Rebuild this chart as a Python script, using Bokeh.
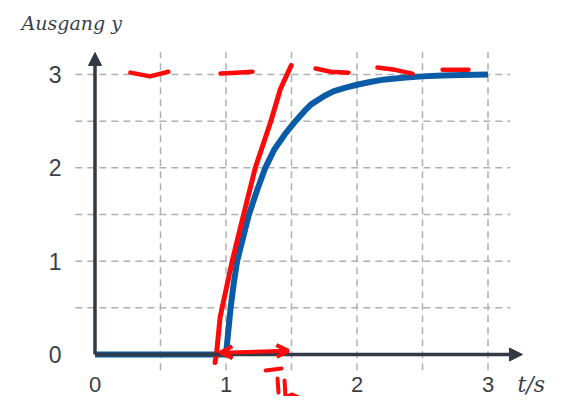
from bokeh.plotting import figure
from bokeh.models import Range1d, Arrow, NormalHead, OpenHead
from bokeh.core.properties import value
from bokeh.embed import file_html
from bokeh.resources import INLINE

# ---- data ----
t_vals = [0.0, 1.0, 1.035, 1.06, 1.085, 1.11, 1.13, 1.175, 1.24, 1.30, 1.37, 1.45, 1.53, 1.60, 1.65,
          1.75, 1.82, 1.90, 2.0, 2.1, 2.2, 2.35, 2.5, 2.65, 2.8, 3.0]
y_vals = [0.0, 0.0, 0.5, 0.77, 1.0, 1.14, 1.25, 1.5, 1.77, 2.0, 2.2, 2.36, 2.5, 2.61, 2.68,
          2.77, 2.82, 2.855, 2.89, 2.92, 2.945, 2.965, 2.98, 2.99, 2.995, 3.0]

x_ticks = [0, 1, 2, 3]
x_tick_labels = ["0", "1", "2", "3"]
y_ticks = [0, 1, 2, 3]
y_tick_labels = ["0", "1", "2", "3"]
grid_x = [0.5, 1.0, 1.5, 2.0, 2.5, 3.0]
grid_y = [0.5, 1.0, 1.5, 2.0, 2.5, 3.0]

# hand-drawn red annotations
tangent_t = [0.916, 0.928, 0.955, 1.047, 1.136, 1.225, 1.340, 1.416, 1.498]
tangent_y = [-0.086, 0.01, 0.40, 1.0, 1.508, 2.007, 2.489, 2.847, 3.097]
final_dash_t = [[0.27, 0.42, 0.56], [0.958, 1.08, 1.202], [1.683, 1.80, 1.935], [2.156, 2.29, 2.424], [2.653, 2.851]]
final_dash_y = [[3.02, 2.98, 3.03], [3.01, 3.02, 3.03], [3.064, 3.03, 3.02], [3.075, 3.05, 3.01], [3.05, 3.05]]
tb_t = [[1.302, 1.424], [1.393, 1.401], [1.447, 1.454], [1.452, 1.50, 1.553]]
tb_y = [[-0.171, -0.150], [-0.257, -0.407], [-0.279, -0.46], [-0.46, -0.428, -0.46]]
span_t = [0.958, 1.477]
span_y = [0.02, 0.04]

AXIS = "#323a45"
GRID = "#aeb0b4"
BLUE = "#0a5ca6"
RED = "#ff0a0a"
TXT = "#3a3f47"

p = figure(width=555, height=396,
           x_range=Range1d(-0.7214, 3.5153), y_range=Range1d(-0.450, 3.793),
           x_axis_type=None, y_axis_type=None,
           toolbar_location=None, output_backend="svg",
           min_border=0, outline_line_color=None,
           background_fill_color="white", border_fill_color="white")

# dashed grid
p.segment(x0=[-0.15] * len(grid_y), y0=grid_y, x1=[3.17] * len(grid_y), y1=grid_y,
          line_color=GRID, line_width=1.5, line_dash="7 5")
p.segment(x0=grid_x, y0=[-0.17] * len(grid_x), x1=grid_x, y1=[3.24] * len(grid_x),
          line_color=GRID, line_width=1.5, line_dash="7 5")

# axes with arrowheads
p.add_layout(Arrow(x_start=0, y_start=0, x_end=0, y_end=3.236,
                   line_color=AXIS, line_width=3.5,
                   end=NormalHead(size=13, fill_color=AXIS, line_color=AXIS)))
p.add_layout(Arrow(x_start=0, y_start=0, x_end=3.263, y_end=0,
                   line_color=AXIS, line_width=3.5,
                   end=NormalHead(size=13, fill_color=AXIS, line_color=AXIS)))

# step response
p.line(t_vals, y_vals, line_color=BLUE, line_width=6, line_join="round")

# red annotations
p.line(tangent_t, tangent_y, line_color=RED, line_width=5, line_cap="round", line_join="round")
p.multi_line(final_dash_t, final_dash_y, line_color=RED, line_width=4.5, line_cap="round")
p.multi_line(tb_t, tb_y, line_color=RED, line_width=4, line_cap="round")
p.add_layout(Arrow(x_start=span_t[0], y_start=span_y[0], x_end=span_t[1], y_end=span_y[1],
                   line_color=RED, line_width=4,
                   start=OpenHead(size=12, line_color=RED, line_width=4),
                   end=OpenHead(size=12, line_color=RED, line_width=4)))

# tick labels
p.text(x=[-0.256] * len(y_ticks), y=y_ticks, text=y_tick_labels,
       text_font=value("Liberation Sans"), text_font_size="23px", text_color=TXT,
       text_align="right", text_baseline="middle")
p.text(x=x_ticks, y=[-0.32] * len(x_ticks), text=x_tick_labels,
       text_font=value("Liberation Sans"), text_font_size="22px", text_color=TXT,
       text_align="center", text_baseline="middle")

# axis titles
p.text(x=[3.225], y=[-0.32], text=["t/s"],
       text_font=value("DejaVu Serif"), text_font_style="italic", text_font_size="22px",
       text_color=TXT, text_align="left", text_baseline="middle")
p.text(x=[-0.561], y=[3.547], text=["Ausgang y"],
       text_font=value("DejaVu Serif"), text_font_style="italic", text_font_size="19px",
       text_color=TXT, text_align="left", text_baseline="middle")

open("out.html", "w").write(file_html(p, INLINE))
